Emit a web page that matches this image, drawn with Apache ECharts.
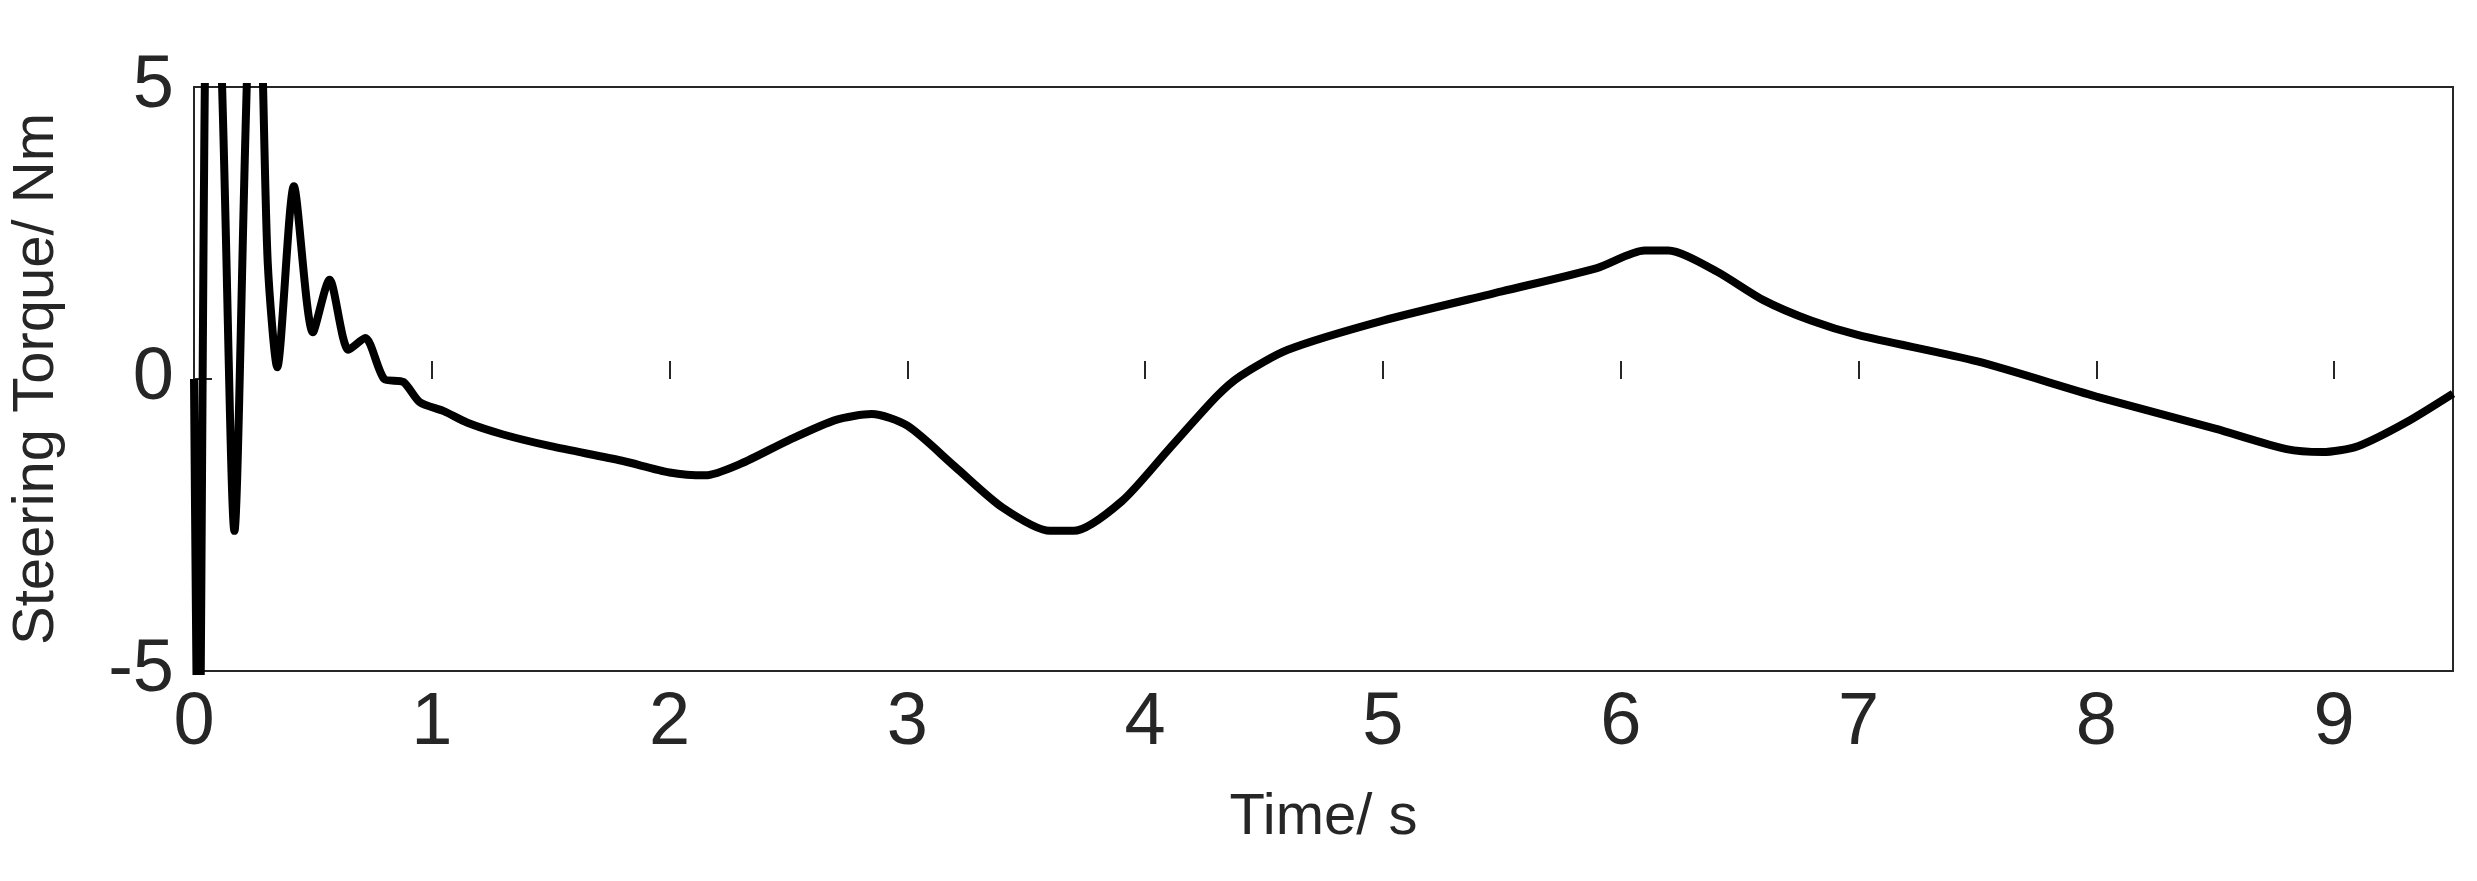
<!DOCTYPE html>
<html><head><meta charset="utf-8">
<script src="https://cdn.jsdelivr.net/npm/echarts@6/dist/echarts.min.js"></script>
<style>html,body{margin:0;padding:0;background:#fff}#c{width:2477px;height:881px}</style>
</head><body><div id="c"></div>
<script>
const timeS = [0,0.02,0.06,0.11,0.17,0.23,0.27,0.31,0.35,0.42,0.5,0.57,0.65,0.72,0.8,0.88,0.95,1.05,1.15,1.3,1.5,1.8,2.0,2.15,2.3,2.5,2.7,2.85,3.0,3.2,3.4,3.6,3.7,3.9,4.1,4.3,4.4,4.6,5.0,5.5,5.9,6.1,6.2,6.4,6.6,6.8,7.0,7.5,8.0,8.5,8.8,8.95,9.1,9.3,9.5];
const torque = [0,-8,8,6,-2.6,6,7,2,0.2,3.3,0.8,1.7,0.5,0.7,0.0,-0.05,-0.4,-0.55,-0.75,-0.95,-1.15,-1.4,-1.6,-1.65,-1.45,-1.05,-0.7,-0.6,-0.8,-1.5,-2.2,-2.6,-2.6,-2.1,-1.2,-0.3,0.05,0.5,1.0,1.5,1.9,2.2,2.2,1.85,1.35,1.0,0.75,0.3,-0.3,-0.85,-1.2,-1.25,-1.15,-0.75,-0.25];
const xTicks = [0,1,2,3,4,5,6,7,8,9];
const yTicks = [-5,0,5];
const chart = echarts.init(document.getElementById('c'));
const ff = 'Arial, "Liberation Sans", sans-serif';
chart.setOption({
  animation:false,
  grid:{left:190,right:24,top:87,bottom:210,show:true,borderColor:'#262626',borderWidth:2},
  xAxis:{type:'value',min:0,max:9.5,interval:1,name:'Time/ s',nameLocation:'middle',nameGap:118,
    nameTextStyle:{fontFamily:ff,fontSize:58,color:'#262626'},
    axisLine:{show:false},axisTick:{show:true,inside:true,length:18,lineStyle:{color:'#262626',width:2}},
    axisLabel:{fontFamily:ff,fontSize:74,color:'#262626',margin:16,showMaxLabel:false,
      formatter:v=>xTicks.includes(v)?String(v):''},
    splitLine:{show:false}},
  yAxis:{type:'value',min:-5,max:5,interval:5,name:'Steering Torque/ Nm',nameLocation:'middle',nameGap:128,
    nameTextStyle:{fontFamily:ff,fontSize:58,color:'#262626'},
    axisLine:{show:false},axisTick:{show:true,inside:true,length:18,lineStyle:{color:'#262626',width:2}},
    axisLabel:{fontFamily:ff,fontSize:74,color:'#262626',margin:20,formatter:v=>yTicks.includes(v)?String(v):''},
    splitLine:{show:false}},
  series:[{type:'line',data:timeS.map((t,i)=>[t,torque[i]]),showSymbol:false,smooth:0.25,clip:true,
    lineStyle:{color:'#000',width:8}}]
});
</script></body></html>
